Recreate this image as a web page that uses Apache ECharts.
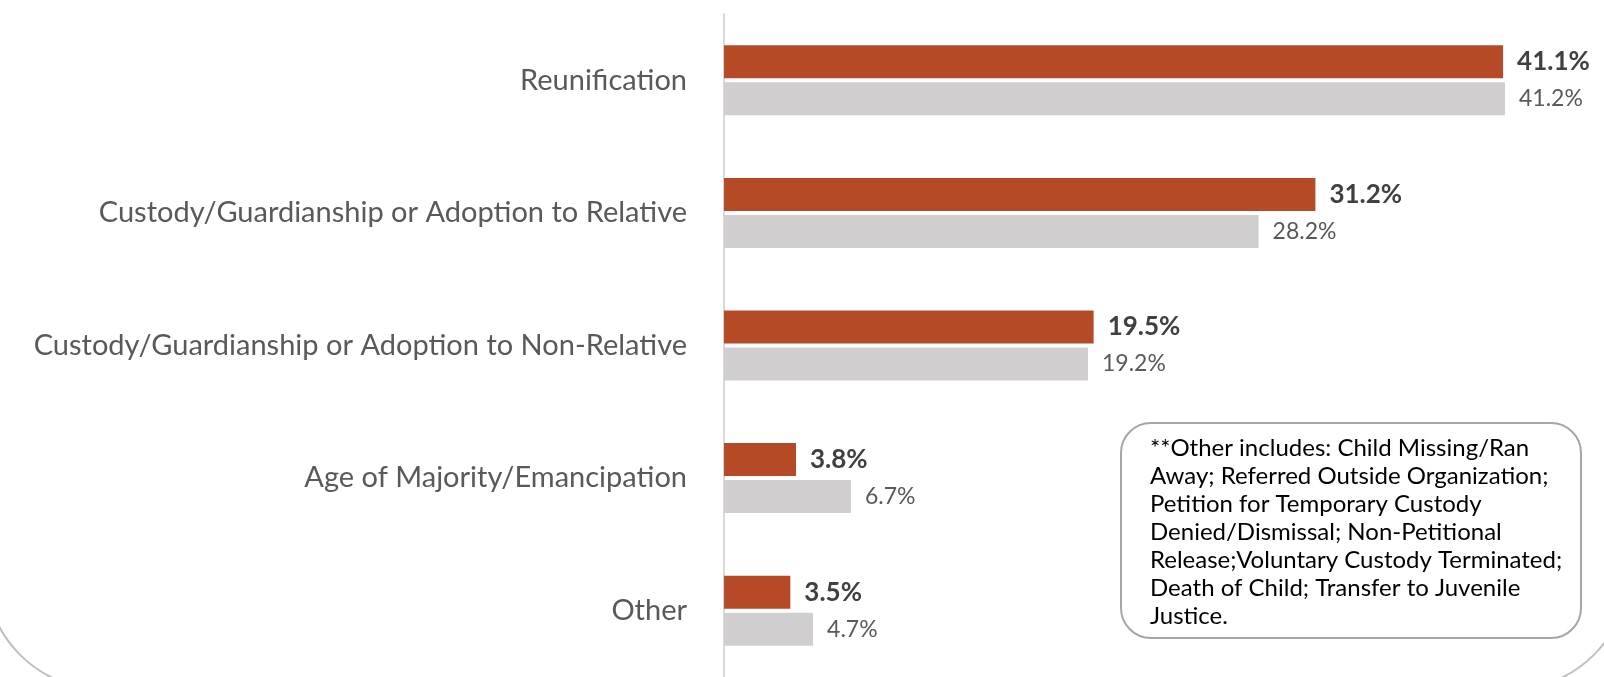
<!DOCTYPE html>
<html>
<head>
<meta charset="utf-8">
<script src="https://cdn.jsdelivr.net/npm/echarts@6/dist/echarts.min.js"></script>
<style>
  html, body { margin: 0; padding: 0; background: #fff; }
  #main { width: 1604px; height: 677px; }
</style>
</head>
<body>
<div id="main"></div>
<script>
// categories, top to bottom
var categories = [
  "Reunification",
  "Custody/Guardianship or Adoption to Relative",
  "Custody/Guardianship or Adoption to Non-Relative",
  "Age of Majority/Emancipation",
  "Other"
];
// percent of exits, current year (orange) and prior year (grey)
var currentValues = [41.1, 31.2, 19.5, 3.8, 3.5];
var priorValues = [41.2, 28.2, 19.2, 6.7, 4.7];
var noteLines = [
  "**Other includes: Child Missing/Ran",
  "Away; Referred Outside Organization;",
  "Petition for Temporary Custody",
  "Denied/Dismissal; Non-Petitional",
  "Release;Voluntary Custody Terminated;",
  "Death of Child; Transfer to Juvenile",
  "Justice."
];

var font = "Lato, 'Open Sans', sans-serif";
var myChart = echarts.init(document.getElementById("main"));

myChart.setOption({
  backgroundColor: "#fff",
  animation: false,
  textStyle: { fontFamily: font },
  grid: { left: 724, right: 27, top: 14, bottom: -4 },
  xAxis: {
    type: "value",
    min: 0,
    max: 45,
    show: false
  },
  yAxis: {
    type: "category",
    inverse: true,
    data: categories,
    axisLine: { lineStyle: { color: "#d9d9d9", width: 2 } },
    axisTick: { show: false },
    axisLabel: {
      margin: 37,
      fontSize: 29,
      color: "#595959",
      fontFamily: font
    }
  },
  series: [
    {
      name: "Current",
      type: "bar",
      data: currentValues,
      barWidth: 33,
      barGap: "12%",
      itemStyle: { color: "#b64926" },
      label: {
        show: true,
        position: "right",
        distance: 14,
        formatter: "{c}%",
        fontSize: 26,
        fontWeight: "bold",
        color: "#404040",
        fontFamily: font
      }
    },
    {
      name: "Prior",
      type: "bar",
      data: priorValues,
      barWidth: 33,
      itemStyle: { color: "#d0cece" },
      label: {
        show: true,
        position: "right",
        distance: 14,
        formatter: "{c}%",
        fontSize: 23,
        color: "#595959",
        fontFamily: font
      }
    }
  ],
  graphic: [
    {
      // slide frame curving off the bottom edge
      type: "rect",
      z: -10,
      silent: true,
      shape: { x: -15, y: -400, width: 1644, height: 1090, r: 120 },
      style: { fill: "none", stroke: "#bfbfbf", lineWidth: 2 }
    },
    {
      type: "rect",
      z: 10,
      shape: { x: 1121, y: 423, width: 460, height: 215, r: 30 },
      style: { fill: "#fff", stroke: "#a6a6a6", lineWidth: 2 }
    },
    {
      type: "text",
      z: 11,
      left: 1150,
      top: 434,
      style: {
        text: noteLines.join("\n"),
        font: "24px " + font,
        lineHeight: 28,
        fill: "#000"
      }
    }
  ]
});
</script>
</body>
</html>
